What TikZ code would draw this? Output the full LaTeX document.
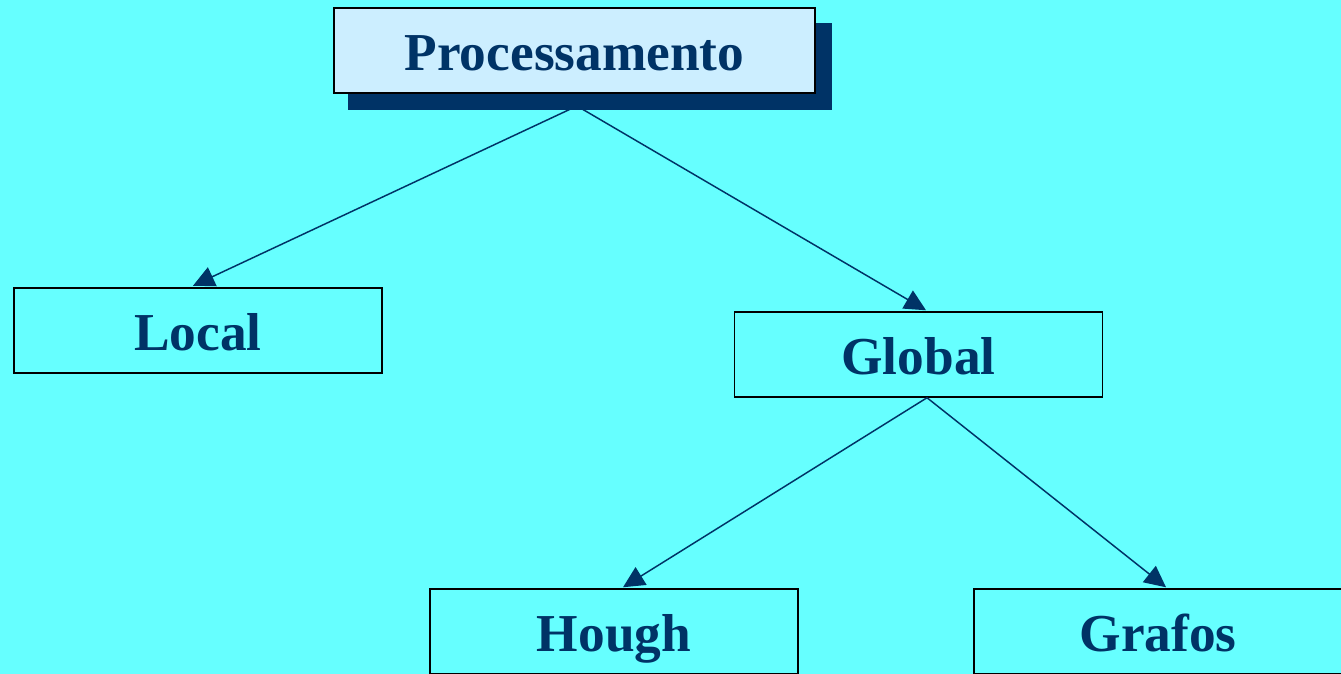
\documentclass[tikz,border=0pt]{standalone}
\usepackage{fontspec}
\setmainfont{Liberation Serif}
\usetikzlibrary{arrows.meta,calc}
\definecolor{bg}{HTML}{66FFFF}
\definecolor{navy}{HTML}{003366}
\definecolor{lightbox}{HTML}{CCEEFF}
\tikzset{
  box/.style={draw=black, line width=1.1pt, inner sep=0pt, minimum width=276pt, minimum height=63.75pt,
    font=\bfseries\fontsize{40}{40}\selectfont, text=navy, text height=30pt, text depth=0pt},
  conn/.style={draw=navy, line width=1.1pt, -{Triangle[length=16pt,width=15.5pt]}},
}
\begin{document}
\begin{tikzpicture}[x=0.75pt,y=-0.75pt]
\path[use as bounding box, fill=bg] (0,0) rectangle (1341,674);
\clip (0,0) rectangle (1341,674);
\coordinate (top) at (577,106);
\node[box] (local) at (198,330.5) {Local};
\node[box] (global) at (918.5,354.5) {Global};
\node[box] (hough) at (614,631.5) {Hough};
\node[box] (grafos) at (1158,631.5) {Grafos};
\draw[conn] (top) -- ($(local.north)+(-5,-1.5)$);
\draw[conn] (top) -- ($(global.north)+(7.5,-1)$);
\draw[conn] ($(global.south)+(8.5,0)$) -- ($(hough.north)+(9,-1)$);
\draw[conn] ($(global.south)+(8.5,0)$) -- ($(grafos.north)+(8,-1)$);
\node[fill=navy, inner sep=0pt, minimum width=363pt, minimum height=65.25pt] (shadow) at (590,66.5) {};
\node[box, fill=lightbox, minimum width=360.75pt] (proc) at (574.5,50.5) {Processamento};
\end{tikzpicture}
\end{document}
